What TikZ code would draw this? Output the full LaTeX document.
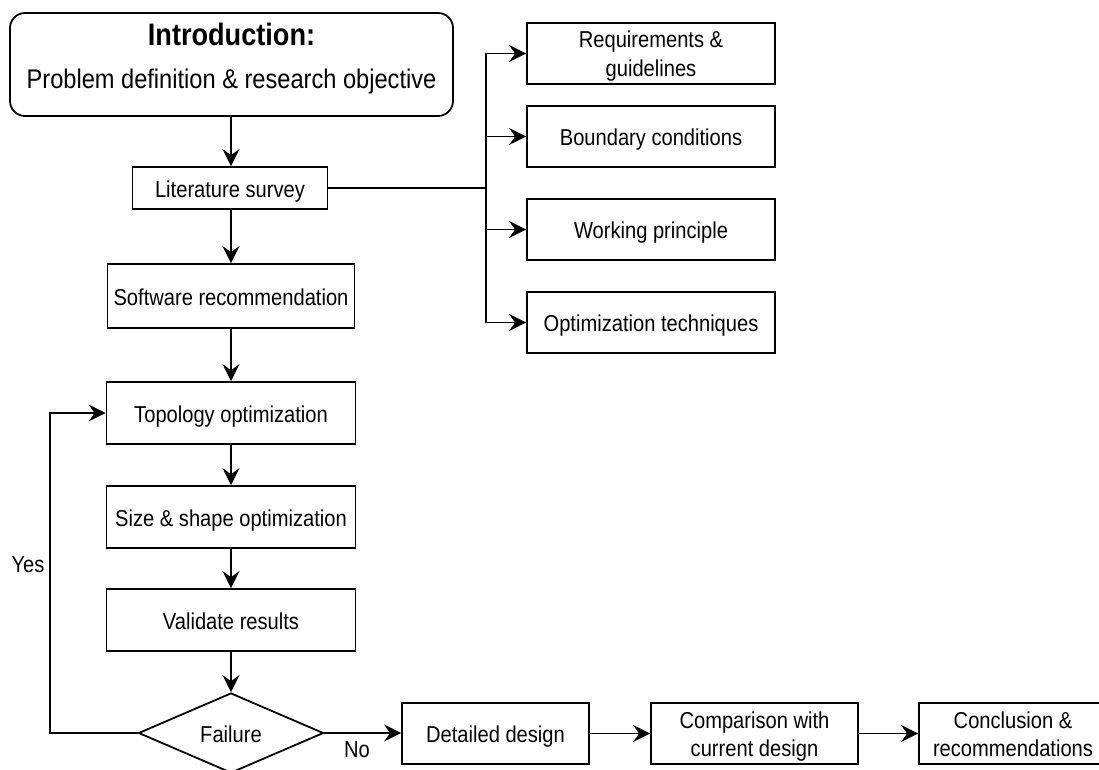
\documentclass[tikz,border=0pt]{standalone}
\usepackage{fontspec}
\setmainfont[FakeStretch=0.875]{Liberation Sans}
\usetikzlibrary{arrows.meta,shapes.geometric}

% two centred lines, set a little low in their box
\newcommand{\twolines}[2]{\raisebox{-3pt}[\height][\depth]{\begin{tabular}{@{}c@{}}#1\\#2\end{tabular}}}

\begin{document}
\begin{tikzpicture}[x=1pt,y=-1pt,
  line width=1.8pt,
  every node/.style={font=\fontsize{23}{29}\selectfont, inner sep=0pt},
  struts/.style={execute at begin node={\rule[-6pt]{0pt}{30pt}},
                 execute at end node={\rule[-6pt]{0pt}{0pt}}},
  plainbox/.style={draw, rectangle, minimum height=61pt},
  box/.style={plainbox, align=center, struts},
  decision/.style={draw, diamond, minimum width=185pt, minimum height=80pt, aspect=2.3, struts},
  arr/.style={-{Stealth[length=17pt,width=17pt,inset=6pt]}},
  lbl/.style={font=\fontsize{23}{27}\selectfont}
]
\useasboundingbox (0,0) rectangle (1099,769);
\clip (0,0) rectangle (1099,769);

% main column
\node[draw, rounded corners=15pt, minimum width=443pt, minimum height=103pt, align=center,
      font=\fontsize{27}{43}\selectfont] (intro) at (231.5,64.5)
  {{\fontsize{31}{43}\selectfont\bfseries Introduction:}\\
   Problem definition \& research objective\rule[-17pt]{0pt}{0pt}};
\node[box, minimum width=195pt, minimum height=42pt] (lit) at (230,188) {Literature survey};
\node[box, minimum width=247pt, minimum height=64pt] (soft) at (231,296) {Software recommendation};
\node[box, minimum width=249pt, minimum height=62pt] (topo) at (231,413) {Topology optimization};
\node[box, minimum width=249pt, minimum height=62pt] (size) at (231,517) {Size \& shape optimization};
\node[box, minimum width=249pt, minimum height=62pt] (valid) at (231,620) {Validate results};
\node[decision] (fail) at (231,733) {Failure};

% literature branches
\node[plainbox, minimum width=248pt] (req) at (651,53.5) {\twolines{Requirements \&}{guidelines}};
\node[box, minimum width=248pt] (bound) at (651,136.5) {Boundary conditions};
\node[box, minimum width=248pt] (work) at (651,229.5) {Working principle};
\node[box, minimum width=248pt] (optim) at (651,322.5) {Optimization techniques};

% final row
\node[box, minimum width=187pt] (det) at (495.5,733.5) {Detailed design};
\node[plainbox, minimum width=207pt, font=\fontsize{23}{28}\selectfont] (comp) at (754.5,733.5)
  {\twolines{Comparison with}{current design}};
\node[plainbox, minimum width=188pt, font=\fontsize{23}{28}\selectfont] (conc) at (1013,733.5)
  {\twolines{Conclusion \&}{recommendations}};

% connectors
\draw[arr] (intro.south -| 231,0) -- (lit.north -| 231,0);
\draw[arr] (lit.south -| 231,0) -- (soft.north -| 231,0);
\draw[arr] (soft) -- (topo);
\draw[arr] (topo) -- (size);
\draw[arr] (size) -- (valid);
\draw[arr] (valid) -- (fail);

\coordinate (trunk) at (486,188);
\draw (lit.east) -- (trunk);
\draw[arr] (trunk) |- (req.west);
\draw[arr] (trunk) |- (bound.west);
\draw[arr] (trunk) |- (work.west);
\draw[arr] (trunk) |- (optim.west);

\coordinate (loop) at (50,573);
\draw[arr] (fail.west) -| (loop) |- (topo.west);
\node[lbl] (yes) at (28,565) {Yes};

\draw[arr] (fail.east) -- (det.west |- fail.east);
\node[lbl] (no) at (357,750) {No};
\draw[arr] (det) -- (comp);
\draw[arr] (comp) -- (conc);
\end{tikzpicture}
\end{document}
